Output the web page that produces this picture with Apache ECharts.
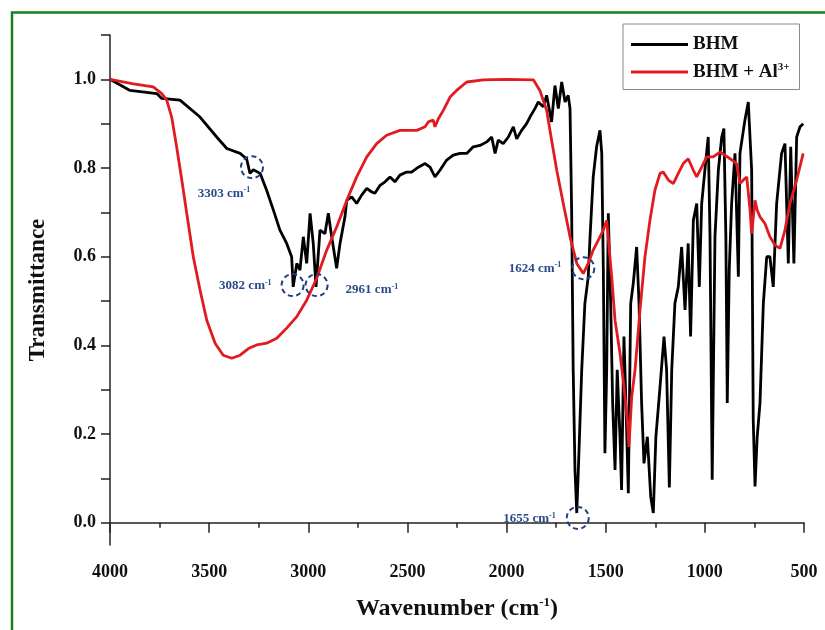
<!DOCTYPE html>
<html lang="en">
<head>
  <meta charset="UTF-8">
  <script src="https://cdn.jsdelivr.net/npm/echarts@6/dist/echarts.min.js"></script>
  <title>FTIR</title>
  <style>
    html, body { margin: 0; padding: 0; background: #fff; }
    #chart { width: 825px; height: 630px; }
  </style>
</head>
<body>
  <div id="chart"></div>
  <script>
    // BHM spectrum
    const bhmWavenumber = [4000,3899,3764,3739,3647,3546,3462,3411,3344,3311,
      3294,3277,3243,3210,3176,3143,3109,3084,3076,3058,
      3042,3025,3008,2991,2975,2961,2941,2916,2899,2882,
      2857,2840,2815,2806,2781,2756,2731,2705,2680,2664,
      2638,2613,2588,2563,2538,2504,2479,2445,2411,2386,
      2361,2336,2302,2269,2235,2201,2168,2134,2100,2075,
      2058,2042,2017,1991,1966,1949,1924,1899,1882,1857,
      1840,1815,1798,1773,1756,1739,1722,1705,1689,1680,
      1672,1664,1655,1646,1638,1621,1605,1588,1579,1563,
      1546,1529,1520,1512,1504,1495,1487,1475,1465,1453,
      1442,1428,1420,1408,1398,1386,1374,1361,1344,1332,
      1319,1307,1290,1273,1260,1247,1226,1206,1193,1179,
      1167,1151,1134,1117,1100,1084,1072,1058,1041,1028,
      1016,1000,983,974,963,949,932,915,904,894,
      887,877,865,848,831,823,798,781,764,756,
      747,736,722,705,688,672,655,638,613,596,
      579,567,551,537,520,504];
    const bhmTransmittance = [1.0,0.975,0.968,0.957,0.953,0.915,0.870,0.844,0.833,0.821,
      0.788,0.796,0.788,0.750,0.705,0.660,0.630,0.600,0.532,0.585,
      0.570,0.645,0.585,0.698,0.630,0.532,0.660,0.652,0.698,0.645,
      0.574,0.630,0.690,0.727,0.735,0.720,0.739,0.754,0.746,0.743,
      0.761,0.769,0.780,0.769,0.784,0.791,0.791,0.802,0.810,0.802,
      0.780,0.795,0.818,0.829,0.833,0.833,0.848,0.851,0.859,0.870,
      0.833,0.863,0.855,0.870,0.893,0.866,0.885,0.900,0.915,0.934,
      0.949,0.938,0.964,0.904,0.986,0.934,0.994,0.949,0.964,0.934,
      0.709,0.345,0.119,0.022,0.119,0.345,0.495,0.555,0.645,0.780,
      0.848,0.885,0.833,0.570,0.157,0.345,0.698,0.495,0.270,0.119,
      0.345,0.194,0.074,0.420,0.270,0.067,0.495,0.540,0.622,0.495,
      0.270,0.134,0.194,0.059,0.022,0.194,0.307,0.420,0.345,0.080,
      0.345,0.495,0.532,0.622,0.480,0.630,0.420,0.682,0.720,0.532,
      0.720,0.795,0.870,0.645,0.097,0.645,0.795,0.870,0.889,0.645,
      0.270,0.570,0.720,0.833,0.555,0.833,0.908,0.949,0.795,0.232,
      0.082,0.194,0.270,0.495,0.600,0.600,0.532,0.720,0.833,0.855,
      0.585,0.848,0.585,0.870,0.893,0.900];

    // BHM + Al3+ spectrum
    const alWavenumber = [4000,3882,3782,3739,3714,3689,3664,3638,3613,3580,
      3546,3512,3470,3429,3386,3344,3302,3260,3210,3159,
      3109,3058,3008,2958,2907,2857,2806,2756,2705,2655,
      2605,2538,2453,2411,2395,2370,2361,2344,2319,2285,
      2252,2201,2117,2000,1865,1832,1798,1773,1747,1714,
      1680,1646,1613,1588,1563,1538,1512,1495,1470,1453,
      1428,1408,1391,1383,1369,1352,1327,1302,1277,1252,
      1226,1210,1184,1159,1134,1109,1084,1058,1041,1016,
      991,958,924,899,873,840,823,806,789,772,
      764,747,736,722,697,672,646,621,596,571,
      537,504];
    const alTransmittance = [1.0,0.990,0.983,0.968,0.953,0.915,0.848,0.773,0.698,0.600,
      0.525,0.457,0.405,0.378,0.371,0.378,0.393,0.401,0.405,0.416,
      0.439,0.465,0.502,0.551,0.615,0.667,0.727,0.780,0.825,0.855,
      0.874,0.885,0.885,0.893,0.904,0.908,0.893,0.911,0.930,0.960,
      0.975,0.994,0.999,1.0,0.999,0.975,0.930,0.863,0.795,0.720,
      0.645,0.585,0.562,0.585,0.615,0.637,0.660,0.682,0.555,0.457,
      0.382,0.307,0.232,0.171,0.284,0.345,0.480,0.600,0.682,0.750,
      0.788,0.791,0.773,0.765,0.788,0.810,0.821,0.795,0.780,0.802,
      0.825,0.825,0.836,0.829,0.821,0.810,0.765,0.773,0.780,0.705,
      0.652,0.727,0.705,0.690,0.675,0.645,0.626,0.619,0.660,0.720,
      0.773,0.833];

    // marked bands
    const peakNames = ['3303', '3082', '2961', '1624', '1655'];
    const peakWavenumber = [3284, 3079, 2958, 1613, 1641];
    const peakTransmittance = [0.802, 0.536, 0.536, 0.574, 0.011];

    const serif = '"Liberation Serif", "DejaVu Serif", serif';
    const peakLabelPos = [
      { position: 'bottom', distance: 7, offset: [-28, 0] },
      { position: 'left', distance: 9, offset: [0, 1] },
      { position: 'right', distance: 17, offset: [0, 5] },
      { position: 'left', distance: 10, offset: [0, 0] },
      { position: 'left', distance: 12, offset: [2, 1] }
    ];

    const bhmData = bhmWavenumber.map((w, i) => [w, bhmTransmittance[i]]);
    const alData = alWavenumber.map((w, i) => [w, alTransmittance[i]]);
    const peakData = peakNames.map((n, i) => ({
      name: n,
      coord: [peakWavenumber[i], peakTransmittance[i]],
      label: peakLabelPos[i]
    }));

    const chart = echarts.init(document.getElementById('chart'));
    chart.setOption({
      animation: false,
      backgroundColor: '#fff',
      graphic: [{
        type: 'rect',
        shape: { x: 12, y: 12.5, width: 900, height: 800 },
        style: { fill: 'none', stroke: '#1e7d1e', lineWidth: 2.5 },
        silent: true
      }],
      grid: [
        { left: 110, right: 21, top: 35, bottom: 85 },
        { left: 110, right: 21, top: 35, bottom: 107.2 }
      ],
      legend: {
        left: 623,
        top: 24,
        orient: 'vertical',
        padding: [11, 10, 8, 8],
        itemGap: 8,
        itemWidth: 57,
        itemHeight: 3,
        icon: 'rect',
        borderColor: '#888',
        borderWidth: 1,
        data: ['BHM', 'BHM + Al3+'],
        formatter: function (name) {
          return name === 'BHM' ? '{b|BHM}' : '{b|BHM + Al}{s|3+}';
        },
        textStyle: {
          rich: {
            b: { fontFamily: serif, fontWeight: 'bold', fontSize: 19, color: '#111', lineHeight: 20 },
            s: { fontFamily: serif, fontWeight: 'bold', fontSize: 11, color: '#111', lineHeight: 10, verticalAlign: 'top' }
          }
        }
      },
      xAxis: [{
        type: 'value',
        gridIndex: 0,
        min: 500,
        max: 4000,
        interval: 500,
        inverse: true,
        name: '{t|Wavenumber (cm}{s|-1}{t|)}',
        nameLocation: 'middle',
        nameGap: 51,
        nameTextStyle: {
          rich: {
            t: { fontFamily: serif, fontWeight: 'bold', fontSize: 24, color: '#111', lineHeight: 26 },
            s: { fontFamily: serif, fontWeight: 'bold', fontSize: 13, color: '#111', lineHeight: 12, verticalAlign: 'top' }
          }
        },
        axisLine: { lineStyle: { color: '#222', width: 1.5 } },
        axisTick: { length: 10, lineStyle: { color: '#222', width: 1.5 } },
        minorTick: { show: true, splitNumber: 2, length: 5, lineStyle: { color: '#222', width: 1.5 } },
        splitLine: { show: false },
        axisLabel: {
          fontFamily: serif, fontWeight: 'bold', fontSize: 18, color: '#111', margin: 18,
          formatter: function (v) { return String(v); }
        }
      }, {
        type: 'value',
        gridIndex: 1,
        min: 500,
        max: 4000,
        inverse: true,
        show: false
      }],
      yAxis: [{
        type: 'value',
        gridIndex: 0,
        min: -0.05,
        max: 1.1,
        name: 'Transmittance',
        nameLocation: 'middle',
        nameGap: 60,
        nameTextStyle: { fontFamily: serif, fontWeight: 'bold', fontSize: 23, color: '#111' },
        axisLine: { show: true, lineStyle: { color: '#222', width: 1.5 } },
        axisTick: { show: false },
        axisLabel: { show: false },
        splitLine: { show: false }
      }, {
        type: 'value',
        gridIndex: 1,
        min: 0,
        max: 1.1,
        interval: 0.1,
        axisLine: { show: false },
        axisTick: { show: true, length: 9, lineStyle: { color: '#222', width: 1.5 } },
        splitLine: { show: false },
        axisLabel: {
          fontFamily: serif, fontWeight: 'bold', fontSize: 18, color: '#111', margin: 14,
          formatter: function (v) {
            const r = Math.round(v * 10);
            return r % 2 === 0 ? (r / 10).toFixed(1) : '';
          }
        }
      }],
      series: [{
        name: 'BHM',
        type: 'line',
        xAxisIndex: 0,
        yAxisIndex: 0,
        symbol: 'none',
        data: bhmData,
        lineStyle: { color: '#000', width: 2.8 },
        itemStyle: { color: '#000' },
        markPoint: {
          symbol: 'circle',
          symbolSize: 22,
          silent: true,
          itemStyle: { color: 'rgba(0,0,0,0)', borderColor: '#1f3d86', borderWidth: 2, borderType: [5, 3.5] },
          label: {
            show: true,
            formatter: function (p) { return '{a|' + p.name + ' cm}{s|-1}'; },
            rich: {
              a: { fontFamily: serif, fontWeight: 'bold', fontSize: 13, color: '#2a4a8c', lineHeight: 15 },
              s: { fontFamily: serif, fontWeight: 'bold', fontSize: 8, color: '#2a4a8c', lineHeight: 8, verticalAlign: 'top' }
            }
          },
          data: peakData
        }
      }, {
        name: 'BHM + Al3+',
        type: 'line',
        xAxisIndex: 0,
        yAxisIndex: 0,
        symbol: 'none',
        data: alData,
        lineStyle: { color: '#e11b1f', width: 2.8 },
        itemStyle: { color: '#e11b1f' }
      }]
    });
  </script>
</body>
</html>
